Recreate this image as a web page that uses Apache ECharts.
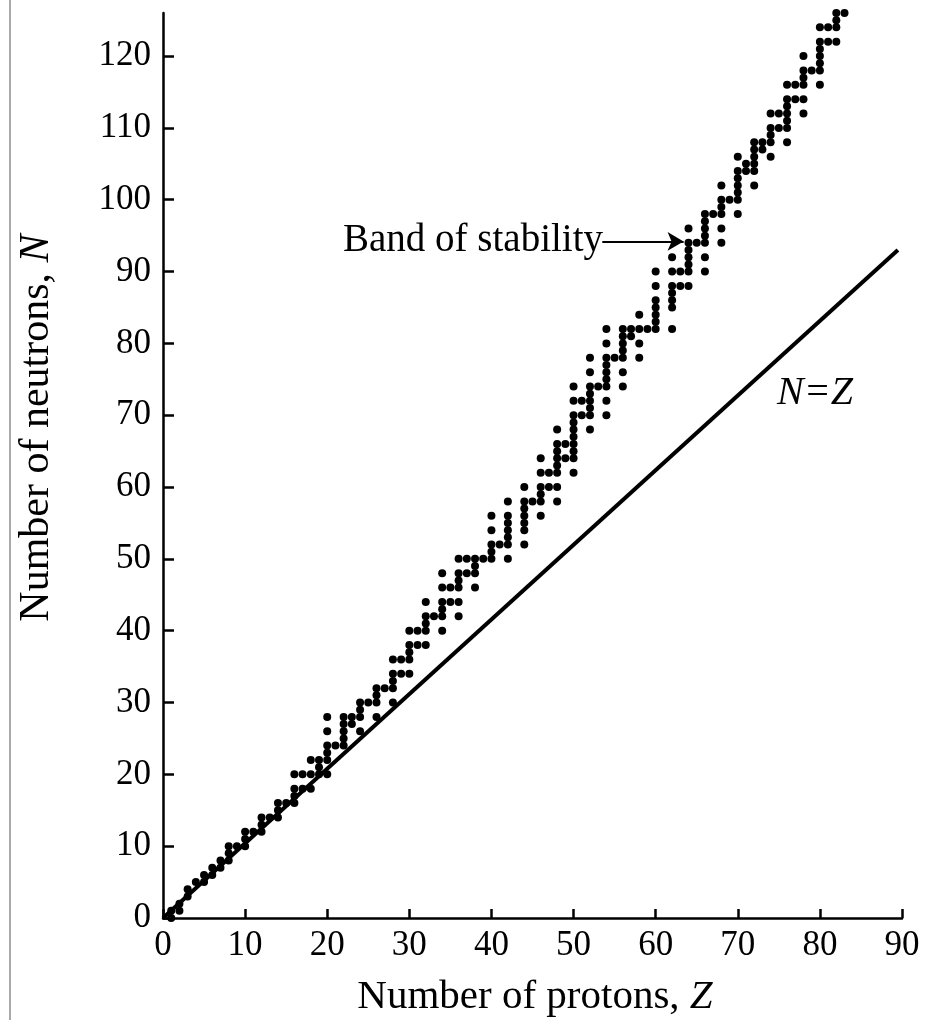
<!DOCTYPE html>
<html>
<head>
<meta charset="utf-8">
<script src="https://cdn.jsdelivr.net/npm/echarts@6/dist/echarts.min.js"></script>
<style>
html,body{margin:0;padding:0;background:#fff;}
#chart{width:925px;height:1020px;}
</style>
</head>
<body>
<div id="chart"></div>
<script>
// Stable nuclei: proton number Z and the neutron numbers N of its stable isotopes
const protonsZ = [1,2,3,4,5,6,7,8,9,10,11,12,13,14,15,16,17,18,19,20,21,22,23,24,25,26,27,28,29,30,31,32,33,34,35,36,37,38,39,40,41,42,44,45,46,47,48,49,50,51,52,53,54,55,56,57,58,59,60,62,63,64,65,66,67,68,69,70,71,72,73,74,75,76,77,78,79,80,81,82,83];
const neutronsN = [
  [0,1],[1,2],[3,4],[5],[5,6],[6,7],[7,8],[8,9,10],[10],[10,11,12],
  [12],[12,13,14],[14],[14,15,16],[16],[16,17,18,20],[18,20],[18,20,22],[20,21,22],[20,22,23,24,26,28],
  [24],[24,25,26,27,28],[27,28],[26,28,29,30],[30],[28,30,31,32],[32],[30,32,33,34,36],[34,36],[34,36,37,38,40],
  [38,40],[38,40,41,42,44],[42],[40,42,43,44,46,48],[44,46],[42,44,46,47,48,50],[48,50],[46,48,49,50],[50],[50,51,52,54,56],
  [52],[50,52,53,54,55,56,58],[52,54,55,56,57,58,60],[58],[56,58,59,60,62,64],[60,62],[58,60,62,63,64,65,66,68],[64,66],
  [62,64,65,66,67,68,69,70,72,74],[70,72],[68,70,71,72,73,74,76,78],[74],[70,72,74,75,76,77,78,80,82],[78],
  [74,76,78,79,80,81,82],[81,82],[78,80,82,84],[82],[82,83,84,85,86,88,90],[82,85,86,87,88,90,92],[88,90],
  [88,90,91,92,93,94,96],[94],[90,92,94,95,96,97,98],[98],[94,96,98,99,100,102],[100],[98,100,101,102,103,104,106],
  [104,105],[102,104,105,106,107,108],[107,108],[106,108,109,110,112],[110,112],[108,110,111,112,113,114,116],[114,116],
  [112,114,116,117,118,120],[118],[116,118,119,120,121,122,124],[122,124],[122,124,125,126],[126]
];
// Reference line labelled N = Z, as drawn
const lineZ = [0, 89.5];
const lineN = [0, 93];
// Axis ticks
const xTicks = [0,10,20,30,40,50,60,70,80,90];
const yTicks = [0,10,20,30,40,50,60,70,80,90,100,110,120];

const points = [];
protonsZ.forEach((z, i) => neutronsN[i].forEach(n => points.push([z, n])));

const serif = 'Liberation Serif';
const chart = echarts.init(document.getElementById('chart'));
chart.setOption({
  backgroundColor: '#fff',
  animation: false,
  grid: {left: 163, right: 23, top: 13, bottom: 102},
  xAxis: {
    type: 'value', min: 0, max: 90, interval: 10,
    splitLine: {show: false},
    axisLine: {lineStyle: {color: '#000', width: 2.5}},
    axisTick: {inside: true, length: 9, lineStyle: {color: '#000', width: 2.5}, customValues: xTicks},
    axisLabel: {color: '#000', fontFamily: serif, fontSize: 35, margin: 10, customValues: xTicks}
  },
  yAxis: {
    type: 'value', min: 0, max: 126,
    splitLine: {show: false},
    axisLine: {lineStyle: {color: '#000', width: 2.5}},
    axisTick: {inside: true, length: 11, lineStyle: {color: '#000', width: 2.5}, customValues: yTicks},
    axisLabel: {color: '#000', fontFamily: serif, fontSize: 35, margin: 12, customValues: yTicks}
  },
  graphic: [
    {type: 'line', shape: {x1: 10, y1: 0, x2: 10, y2: 1020}, style: {stroke: '#555', lineWidth: 1}},
    {type: 'text', x: 535, y: 997, style: {
      text: 'Number of protons, {i|Z}', fontFamily: serif, fontSize: 41, fill: '#000',
      align: 'center', verticalAlign: 'middle',
      rich: {i: {fontFamily: serif, fontStyle: 'italic', fontSize: 41}}
    }},
    {type: 'text', x: 37, y: 428, rotation: Math.PI / 2, style: {
      text: 'Number of neutrons, {i|N}', fontFamily: serif, fontSize: 42, fill: '#000',
      align: 'center', verticalAlign: 'middle',
      rich: {i: {fontFamily: serif, fontStyle: 'italic', fontSize: 42}}
    }},
    {type: 'text', x: 603, y: 241, style: {
      text: 'Band of stability', fontFamily: serif, fontSize: 39, fill: '#000',
      align: 'right', verticalAlign: 'middle'
    }},
    {type: 'text', x: 815, y: 393, style: {
      text: 'N=Z', fontFamily: serif, fontStyle: 'italic', fontSize: 40, fill: '#000',
      align: 'center', verticalAlign: 'middle'
    }}
  ],
  series: [
    {
      type: 'line', data: [[lineZ[0], lineN[0]], [lineZ[1], lineN[1]]],
      symbol: 'none', lineStyle: {color: '#000', width: 4}, silent: true
    },
    {
      type: 'scatter', data: points, symbol: 'circle', symbolSize: 8,
      itemStyle: {color: '#000', opacity: 1},
      markLine: {
        silent: true, symbol: ['none', 'arrow'], symbolSize: [14, 16],
        lineStyle: {color: '#000', width: 2, type: 'solid'}, label: {show: false},
        data: [[{coord: [53.5, 94.2]}, {coord: [63.4, 94.2]}]]
      }
    }
  ]
});
</script>
</body>
</html>
